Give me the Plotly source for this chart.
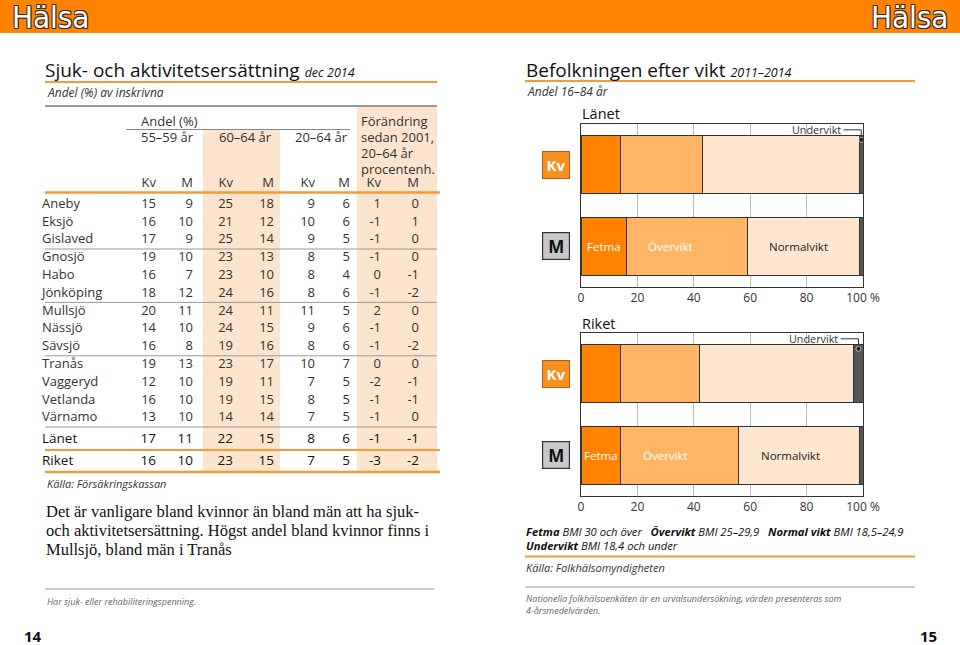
import plotly.graph_objects as go

# ---------------- DATA ----------------
kommuner = ["Aneby", "Eksjö", "Gislaved", "Gnosjö", "Habo", "Jönköping", "Mullsjö",
            "Nässjö", "Sävsjö", "Tranås", "Vaggeryd", "Vetlanda", "Värnamo"]
kv_55_59 = [15, 16, 17, 19, 16, 18, 20, 14, 16, 19, 12, 16, 13]
m_55_59 = [9, 10, 9, 10, 7, 12, 11, 10, 8, 13, 10, 10, 10]
kv_60_64 = [25, 21, 25, 23, 23, 24, 24, 24, 19, 23, 19, 19, 14]
m_60_64 = [18, 12, 14, 13, 10, 16, 11, 15, 16, 17, 11, 15, 14]
kv_20_64 = [9, 10, 9, 8, 8, 8, 11, 9, 8, 10, 7, 8, 7]
m_20_64 = [6, 6, 5, 5, 4, 6, 5, 6, 6, 7, 5, 5, 5]
kv_forandring = [1, -1, -1, -1, 0, -1, 2, -1, -1, 0, -2, -1, -1]
m_forandring = [0, 1, 0, 0, -1, -2, 0, 0, -2, 0, -1, -1, 0]

summa_rader = ["Länet", "Riket"]
summa_kv_55_59 = [17, 16]
summa_m_55_59 = [11, 10]
summa_kv_60_64 = [22, 23]
summa_m_60_64 = [15, 15]
summa_kv_20_64 = [8, 7]
summa_m_20_64 = [6, 5]
summa_kv_forandring = [-1, -3]
summa_m_forandring = [-1, -2]

viktklasser = ["Fetma", "Övervikt", "Normalvikt", "Undervikt"]
lanet_kv = [14.1, 28.9, 55.8, 1.2]
lanet_m = [16.2, 42.8, 39.8, 1.2]
riket_kv = [14.1, 27.8, 54.9, 3.2]
riket_m = [14.1, 41.9, 42.8, 1.2]
kon = ["Kv", "M"]
x_ticks = [0, 20, 40, 60, 80, 100]
x_ticktext = ["0", "20", "40", "60", "80", "100 %"]

# ---------------- STYLE ----------------
W, H = 960, 645
SANS = "Open Sans, Noto Sans, DejaVu Sans, sans-serif"
SERIF = "Liberation Serif, DejaVu Serif, serif"
ORANGE = "#FF8200"
LINE_ORANGE = "#F39A3A"
BAND = "#FDE4CC"
TXT = "#333333"
bar_colors = ["#FF8200", "#FFB566", "#FFE6CE", "#555555"]
label_colors = ["white", "white", "#222222", "#222222"]

col_right = [156, 193, 233, 274, 315, 350, 381, 419]
row_y0, row_dy = 204.5, 17.8
summa_y = [440, 462]

fig = go.Figure()

# ---------------- TABLE (pixel axis x3/y3) ----------------
columns = [kv_55_59, m_55_59, kv_60_64, m_60_64, kv_20_64, m_20_64, kv_forandring, m_forandring]
summa_columns = [summa_kv_55_59, summa_m_55_59, summa_kv_60_64, summa_m_60_64,
                 summa_kv_20_64, summa_m_20_64, summa_kv_forandring, summa_m_forandring]
row_ys = [row_y0 + i * row_dy for i in range(len(kommuner))]

fig.add_trace(go.Scatter(x=[42] * len(kommuner), y=row_ys, text=kommuner, mode="text",
                         textposition="middle right", textfont=dict(family=SANS, size=13, color=TXT),
                         xaxis="x3", yaxis="y3", hoverinfo="skip", showlegend=False, cliponaxis=False))
xs, ys, ts = [], [], []
for c, col in enumerate(columns):
    for r, v in enumerate(col):
        xs.append(col_right[c]); ys.append(row_ys[r]); ts.append(str(v))
fig.add_trace(go.Scatter(x=xs, y=ys, text=ts, mode="text", textposition="middle left",
                         textfont=dict(family=SANS, size=13, color=TXT),
                         xaxis="x3", yaxis="y3", hoverinfo="skip", showlegend=False, cliponaxis=False))
fig.add_trace(go.Scatter(x=[42] * 2, y=summa_y, text=summa_rader, mode="text",
                         textposition="middle right", textfont=dict(family=SANS, size=13.5, color="#111"),
                         xaxis="x3", yaxis="y3", hoverinfo="skip", showlegend=False, cliponaxis=False))
xs, ys, ts = [], [], []
for c, col in enumerate(summa_columns):
    for r, v in enumerate(col):
        xs.append(col_right[c]); ys.append(summa_y[r]); ts.append(str(v))
fig.add_trace(go.Scatter(x=xs, y=ys, text=ts, mode="text", textposition="middle left",
                         textfont=dict(family=SANS, size=13.5, color="#111"),
                         xaxis="x3", yaxis="y3", hoverinfo="skip", showlegend=False, cliponaxis=False))
# column header Kv / M
fig.add_trace(go.Scatter(x=col_right, y=[184] * 8, text=kon * 4, mode="text", textposition="middle left",
                         textfont=dict(family=SANS, size=13, color=TXT),
                         xaxis="x3", yaxis="y3", hoverinfo="skip", showlegend=False, cliponaxis=False))

shapes = []
annots = []


def rect(x0, y0, x1, y1, color, layer="below"):
    shapes.append(dict(type="rect", xref="x3", yref="y3", x0=x0, y0=y0, x1=x1, y1=y1,
                       fillcolor=color, line=dict(width=0), layer=layer))


def hline(x0, x1, y, color, width):
    shapes.append(dict(type="line", xref="x3", yref="y3", x0=x0, x1=x1, y0=y, y1=y,
                       line=dict(color=color, width=width), layer="above"))


def txt(x, y, s, size=12, color=TXT, family=SANS, xanchor="left", yanchor="middle", **kw):
    annots.append(dict(xref="x3", yref="y3", x=x, y=y, text=s, showarrow=False,
                       xanchor=xanchor, yanchor=yanchor,
                       font=dict(family=family, size=size, color=color), **kw))


# header band
rect(0, 0, 960, 33, ORANGE)
hals_font = dict(family="Liberation Sans Narrow, DejaVu Sans Condensed, Arial Narrow, sans-serif",
                 size=31, color="white",
                 shadow="-1px -1px 0 #3a2a1a, 1px -1px 0 #3a2a1a, -1px 1px 0 #3a2a1a, 1px 1px 0 #3a2a1a")
annots.append(dict(xref="x3", yref="y3", x=10, y=17, text="Hälsa", showarrow=False,
                   xanchor="left", yanchor="middle", font=hals_font))
annots.append(dict(xref="x3", yref="y3", x=950, y=17, text="Hälsa", showarrow=False,
                   xanchor="right", yanchor="middle", font=hals_font))

# table shading
rect(203, 130, 280, 472, BAND)
rect(357, 107, 437, 472, BAND)

# left titles
txt(43, 70, "Sjuk- och aktivitetsersättning <i><span style='font-size:12.5px'>dec 2014</span></i>",
    size=19, color="#111")
hline(45, 437, 82, LINE_ORANGE, 2)
txt(45, 92, "<i>Andel (%) av inskrivna</i>", size=12, color=TXT)
hline(45, 437, 106, "#333", 1)

txt(139, 121, "Andel (%)", size=13)
hline(126, 350, 129.5, "#888", 1)
txt(139, 137, "55–59 år", size=13)
txt(217, 137, "60–64 år", size=13)
txt(350, 137, "20–64 år", size=13, xanchor="right")
for i, s in enumerate(["Förändring", "sedan 2001,", "20–64 år", "procentenh."]):
    txt(359, 121 + i * 16, s, size=13)

hline(45, 440, 192.5, LINE_ORANGE, 2.5)
for k in [2, 5, 8, 12]:
    hline(45, 437, row_ys[k] + row_dy / 2, "#999", 1)
hline(45, 440, 450, LINE_ORANGE, 2)
hline(45, 440, 472, LINE_ORANGE, 2.5)
txt(45, 483, "<i>Källa: Försäkringskassan</i>", size=11, color=TXT)

para = ["Det är vanligare bland kvinnor än bland män att ha sjuk-",
        "och aktivitetsersättning. Högst andel bland kvinnor finns i",
        "Mullsjö, bland män i Tranås"]
for i, s in enumerate(para):
    txt(44, 511 + i * 19, s, size=16.5, color="#111", family=SERIF)

hline(45, 434, 589, "#999", 1.2)
txt(45, 601, "<i>Har sjuk- eller rehabiliteringspenning.</i>", size=9, color="#666")
txt(33, 636, "<b>14</b>", size=15, color="#111", xanchor="center")
txt(928, 636, "<b>15</b>", size=15, color="#111", xanchor="center")

# right titles
txt(524, 70, "Befolkningen efter vikt <i><span style='font-size:12.5px'>2011–2014</span></i>",
    size=19, color="#111")
hline(525, 915, 81, LINE_ORANGE, 2)
txt(525, 91, "<i>Andel 16–84 år</i>", size=12, color=TXT)
txt(580, 113, "Länet", size=14.5, color="#111")
txt(580, 323, "Riket", size=14.5, color="#111")

legend_l1 = ("<b><i>Fetma</i></b><i> BMI 30 och över</i>&nbsp;&nbsp;&nbsp;"
             "<b><i>Övervikt</i></b><i> BMI 25–29,9</i>&nbsp;&nbsp;&nbsp;"
             "<b><i>Normal vikt</i></b><i> BMI 18,5–24,9</i>")
legend_l2 = "<b><i>Undervikt</i></b><i> BMI 18,4 och under</i>"
txt(524, 531, legend_l1, size=11.2, color="#111")
txt(524, 545, legend_l2, size=11.2, color="#111")
hline(525, 915, 556.5, LINE_ORANGE, 2)
txt(524, 567, "<i>Källa: Folkhälsomyndigheten</i>", size=11, color=TXT)
hline(525, 915, 587, "#999", 1.2)
txt(524, 598, "<i>Nationella folkhälsoenkäten är en urvalsundersökning, värden presenteras som</i>",
    size=9, color="#666")
txt(524, 610, "<i>4-årsmedelvärden.</i>", size=9, color="#666")

# ---------------- BAR CHARTS ----------------
BAR_W = 0.71


def add_chart(vals_kv, vals_m, xa, ya):
    yref = ya.replace("axis", "")
    for i, name in enumerate(viktklasser):
        fig.add_trace(go.Bar(y=[1, 0], x=[vals_kv[i], vals_m[i]], orientation="h", width=BAR_W,
                             marker=dict(color=bar_colors[i], line=dict(color="#333", width=1)),
                             xaxis=xa, yaxis=ya, name=name, showlegend=False, hoverinfo="skip"))
    # labels in the M bar
    start = 0
    for i in range(3):
        if i == 0:
            x, anchor = vals_m[0] / 2, "center"
        else:
            x, anchor = start + 7, "left"
        annots.append(dict(xref=xa, yref=yref, x=x, y=0, text=viktklasser[i], showarrow=False,
                           xanchor=anchor, yanchor="middle",
                           font=dict(family=SANS, size=11.5, color=label_colors[i])))
        start += vals_m[i]
    # Undervikt leader
    cu = sum(vals_kv[:3]) + vals_kv[3] / 2
    ytop = 1 + BAR_W / 2 + 6 / 81.5
    ydot = 1 + BAR_W / 2 - 4 / 81.5
    fig.add_trace(go.Scatter(x=[cu - 6.3, cu, cu], y=[ytop, ytop, ydot], mode="lines+markers",
                             line=dict(color="#333", width=1),
                             marker=dict(size=[0, 0, 5], color="#111", line=dict(color="white", width=0.8)),
                             xaxis=xa, yaxis=ya, showlegend=False, hoverinfo="skip"))
    annots.append(dict(xref=xa, yref=yref, x=cu - 6.5, y=ytop, text="Undervikt", showarrow=False,
                       xanchor="right", yanchor="middle",
                       font=dict(family=SANS, size=10.8, color=TXT)))
    # badges
    annots.append(dict(xref="paper", yref=yref, x=556 / W, y=1, text="<b>Kv</b>", showarrow=False,
                       xanchor="center", yanchor="middle", width=24, height=24,
                       bgcolor="#F7901E", bordercolor="#B0601A", borderwidth=1,
                       font=dict(family=SANS, size=15, color="white")))
    annots.append(dict(xref="paper", yref=yref, x=556 / W, y=0, text="<b>M</b>", showarrow=False,
                       xanchor="center", yanchor="middle", width=24, height=24,
                       bgcolor="#C8C8C8", bordercolor="#333", borderwidth=1.2,
                       font=dict(family=SANS, size=17, color="#111")))


add_chart(lanet_kv, lanet_m, "x", "y")
add_chart(riket_kv, riket_m, "x2", "y2")

xdom = [581 / W, 863 / W]
xax = dict(domain=xdom, range=[0, 100], tickvals=x_ticks, ticktext=x_ticktext, showgrid=True,
           gridcolor="#BBBBBB", gridwidth=1, zeroline=False, showline=True, linecolor="#333",
           linewidth=1, mirror=True, ticks="", fixedrange=True, automargin=False,
           tickfont=dict(family=SANS, size=12, color=TXT))
yax = dict(range=[-0.5, 1.5], showticklabels=False, showgrid=False, zeroline=False, automargin=False,
           showline=True, linecolor="#333", linewidth=1, mirror=True, ticks="", fixedrange=True)

fig.update_layout(
    width=W, height=H, margin=dict(l=0, r=0, t=0, b=0, pad=0, autoexpand=False), autosize=False,
    paper_bgcolor="white", plot_bgcolor="rgba(0,0,0,0)",
    barmode="stack", bargap=0.29, showlegend=False,
    xaxis=dict(xax, anchor="y"),
    yaxis=dict(yax, domain=[1 - 287 / H, 1 - 124 / H], anchor="x"),
    xaxis2=dict(xax, anchor="y2"),
    yaxis2=dict(yax, domain=[1 - 496 / H, 1 - 333 / H], anchor="x2"),
    xaxis3=dict(domain=[0, 1], range=[0, W], visible=False, fixedrange=True, anchor="y3", automargin=False),
    yaxis3=dict(domain=[0, 1], range=[H, 0], visible=False, fixedrange=True, anchor="x3", automargin=False),
    shapes=shapes, annotations=annots,
)

fig.write_html("out.html", config={"displayModeBar": False},
               post_script="document.body.style.margin='0';document.body.style.overflow='hidden';")
